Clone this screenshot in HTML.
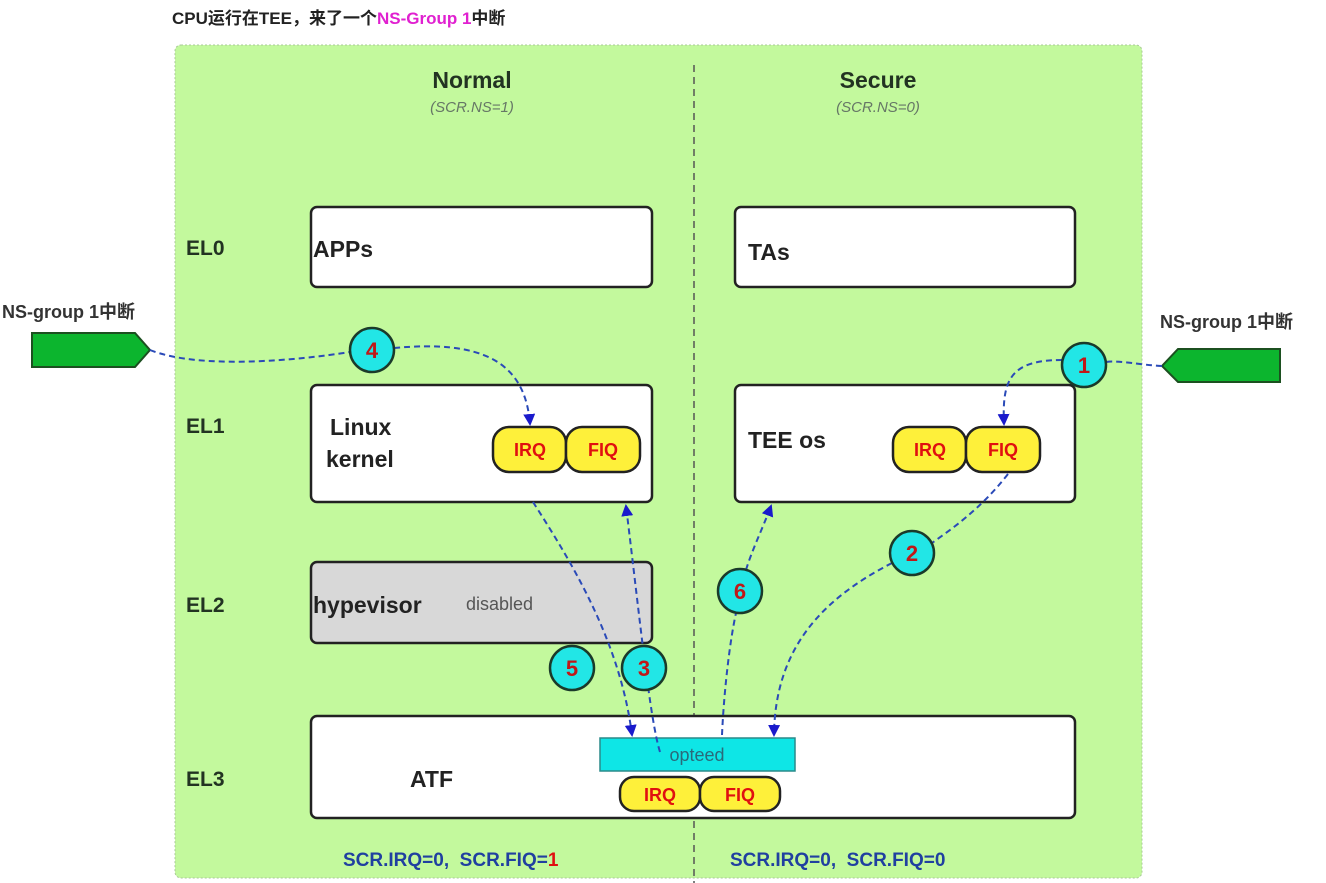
<!DOCTYPE html>
<html><head><meta charset="utf-8"><style>
html,body{margin:0;padding:0;background:#fff;width:1326px;height:883px;overflow:hidden}
svg{display:block}
text{font-family:"Liberation Sans","Noto Sans CJK SC",sans-serif}
</style></head><body>
<svg width="1326" height="883" viewBox="0 0 1326 883">
<defs>
<marker id="ah" markerWidth="12" markerHeight="14" refX="10" refY="6" orient="auto" markerUnits="userSpaceOnUse">
<path d="M0,0 L12,6 L0,12 z" fill="#1a1acc"/></marker>
</defs>
<text x="172" y="24" font-size="17" font-weight="bold" fill="#222">CPU运行在TEE，来了一个<tspan fill="#e020d0">NS-Group 1</tspan>中断</text>
<rect x="175" y="45" width="967" height="833" rx="6" fill="#c3f99d" stroke="#a8c898" stroke-dasharray="2,2"/>
<line x1="694" y1="65" x2="694" y2="883" stroke="#555" stroke-width="1.5" stroke-dasharray="7,5"/>
<text x="472" y="88" font-size="23" font-weight="bold" fill="#223322" text-anchor="middle">Normal</text>
<text x="472" y="112" font-size="15" font-style="italic" fill="#667766" text-anchor="middle">(SCR.NS=1)</text>
<text x="878" y="88" font-size="23" font-weight="bold" fill="#223322" text-anchor="middle">Secure</text>
<text x="878" y="112" font-size="15" font-style="italic" fill="#667766" text-anchor="middle">(SCR.NS=0)</text>
<g font-size="21" font-weight="bold" fill="#223322">
<text x="186" y="255">EL0</text><text x="186" y="433">EL1</text><text x="186" y="612">EL2</text><text x="186" y="786">EL3</text></g>
<g stroke="#222" stroke-width="2.5">
<rect x="311" y="207" width="341" height="80" rx="6" fill="#fff"/>
<rect x="735" y="207" width="340" height="80" rx="6" fill="#fff"/>
<rect x="311" y="385" width="341" height="117" rx="6" fill="#fff"/>
<rect x="735" y="385" width="340" height="117" rx="6" fill="#fff"/>
<rect x="311" y="562" width="341" height="81" rx="6" fill="#d8d8d8"/>
<rect x="311" y="716" width="764" height="102" rx="6" fill="#fff"/>
</g>
<g font-size="23" font-weight="bold" fill="#222">
<text x="313" y="257">APPs</text><text x="748" y="260">TAs</text>
<text x="330" y="435">Linux</text><text x="326" y="467">kernel</text>
<text x="748" y="448">TEE os</text>
<text x="313" y="613">hypevisor</text><text x="410" y="787">ATF</text></g>
<text x="466" y="610" font-size="18" fill="#555">disabled</text>
<g stroke="#222" stroke-width="2.5" fill="#fef03a">
<rect x="493" y="427" width="73" height="45" rx="16"/><rect x="566" y="427" width="74" height="45" rx="16"/>
<rect x="893" y="427" width="73" height="45" rx="16"/><rect x="966" y="427" width="74" height="45" rx="16"/>
<rect x="620" y="777" width="80" height="34" rx="14"/><rect x="700" y="777" width="80" height="34" rx="14"/>
</g>
<g font-size="18" font-weight="bold" fill="#e01010" text-anchor="middle">
<text x="530" y="456">IRQ</text><text x="603" y="456">FIQ</text>
<text x="930" y="456">IRQ</text><text x="1003" y="456">FIQ</text>
<text x="660" y="801">IRQ</text><text x="740" y="801">FIQ</text></g>
<rect x="600" y="738" width="195" height="33" fill="#0ee6e6" stroke="#2a8a8a" stroke-width="1.5"/>
<text x="697" y="761" font-size="18" fill="#2a6a7a" text-anchor="middle">opteed</text>
<polygon points="32,333 135,333 150,350 135,367 32,367" fill="#0cb52e" stroke="#1c5020" stroke-width="2"/>
<polygon points="1280,349 1280,382 1178,382 1162,366 1178,349" fill="#0cb52e" stroke="#1c5020" stroke-width="2"/>
<text x="2" y="318" font-size="18" font-weight="bold" fill="#333">NS-group 1中断</text>
<text x="1160" y="328" font-size="18" font-weight="bold" fill="#333">NS-group 1中断</text>
<g stroke="#2a4ab8" stroke-width="2" fill="none" stroke-dasharray="6,4">
<path d="M150,350 C200,370 300,360 350,352"/>
<path d="M394,348 C480,340 525,360 530,424" marker-end="url(#ah)"/>
<path d="M1162,366 C1140,365 1120,360 1106,362"/>
<path d="M1062,360 C1010,360 1002,380 1004,424" marker-end="url(#ah)"/>
<path d="M1008,474 C980,510 950,530 932,543"/>
<path d="M892,563 C820,600 775,650 774,735" marker-end="url(#ah)"/>
<path d="M533,502 C570,560 620,640 632,735" marker-end="url(#ah)"/>
<path d="M660,752 C650,720 640,620 626,506" marker-end="url(#ah)"/>
<path d="M722,735 C724,690 730,640 736,613"/>
<path d="M746,570 C752,550 762,530 771,506" marker-end="url(#ah)"/>
</g>
<g stroke="#1a3a2a" stroke-width="2.5" fill="#22e6e6">
<circle cx="372" cy="350" r="22"/><circle cx="1084" cy="365" r="22"/><circle cx="912" cy="553" r="22"/>
<circle cx="740" cy="591" r="22"/><circle cx="572" cy="668" r="22"/><circle cx="644" cy="668" r="22"/></g>
<g font-size="22" font-weight="bold" fill="#c01818" text-anchor="middle">
<text x="372" y="358">4</text><text x="1084" y="373">1</text><text x="912" y="561">2</text>
<text x="740" y="599">6</text><text x="572" y="676">5</text><text x="644" y="676">3</text></g>
<text x="343" y="866" font-size="19" font-weight="bold" fill="#2040a0">SCR.IRQ=0,&#160;&#160;SCR.FIQ=<tspan fill="#e01010">1</tspan></text>
<text x="730" y="866" font-size="19" font-weight="bold" fill="#2040a0">SCR.IRQ=0,&#160;&#160;SCR.FIQ=0</text>
</svg>
</body></html>
